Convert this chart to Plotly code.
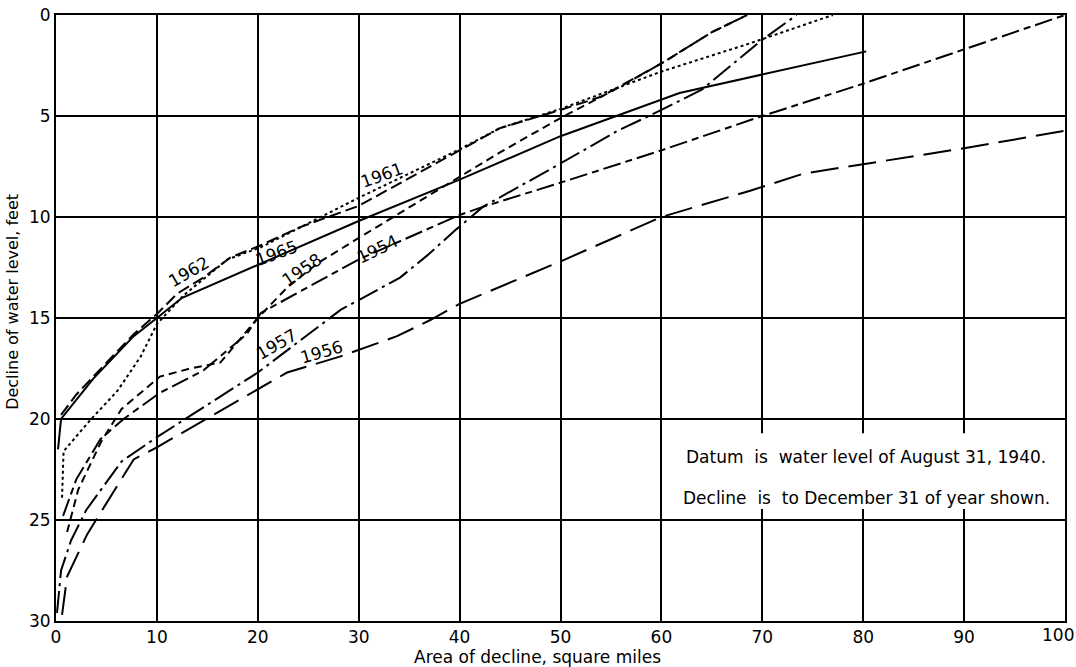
import plotly.graph_objects as go

# ---- data ----
x_1965 = [0.2, 0.5, 3.7, 7.7, 10, 12.5, 30, 40, 50, 61.8, 80.3]
y_1965 = [21.5, 20.0, 18.0, 15.9, 15.0, 14.0, 10.2, 8.15, 6.0, 3.86, 1.8]

x_1962 = [0.5, 2, 3.7, 7.7, 10, 12, 14.6, 17.3, 20.3, 24.2, 30, 40, 44, 50, 54, 60, 65, 68.5]
y_1962 = [19.8, 18.8, 17.9, 15.8, 14.8, 13.8, 13.0, 12.0, 11.4, 10.5, 9.45, 6.7, 5.6, 4.7, 4.05, 2.4, 0.85, 0]

x_1961 = [0.6, 0.75, 3.4, 6.1, 8.4, 10, 12.6, 17, 20.3, 30, 40, 44, 50, 55.6, 60, 68.8, 77]
y_1961 = [23.9, 21.6, 20.05, 18.6, 16.9, 15.3, 13.9, 12.1, 11.5, 9.05, 6.65, 5.6, 4.65, 3.6, 2.8, 1.4, 0]

x_1958 = [1.1, 2.2, 4.5, 6.5, 10.3, 13.3, 16.3, 18.6, 20, 22.9, 25.9, 29.8, 40, 44, 50, 55, 60, 65, 68.5]
y_1958 = [25.6, 23.5, 21.1, 19.5, 17.9, 17.5, 17.2, 15.8, 15.0, 13.5, 12.3, 11.1, 8.0, 6.8, 5.1, 3.8, 2.4, 0.85, 0]

x_1954 = [0.7, 2, 4.4, 6.7, 10.3, 14.6, 18.9, 20.3, 30, 40, 42.3, 50, 60, 70, 80, 90, 100]
y_1954 = [24.8, 23.0, 21.0, 20.0, 18.7, 17.6, 15.8, 14.75, 12.1, 9.9, 9.5, 8.3, 6.7, 5.0, 3.4, 1.7, 0]

x_1957 = [0.1, 0.5, 1.5, 3, 6.5, 10, 20, 24.2, 28.2, 34.1, 36.8, 39.7, 42.3, 50, 55.6, 60, 64, 69.8, 73.4]
y_1957 = [29.6, 27.5, 26.0, 24.5, 22.1, 20.9, 17.7, 16.1, 14.6, 13.0, 11.9, 10.6, 9.5, 7.35, 5.75, 4.7, 3.7, 1.3, 0]

x_1956 = [0.6, 1.1, 3.1, 7.7, 10, 20, 22.9, 28.2, 33.8, 37.1, 40, 45.7, 50, 60, 68.8, 74.1, 80, 90, 100]
y_1956 = [29.7, 27.8, 25.7, 22.0, 21.4, 18.5, 17.7, 16.9, 15.9, 15.1, 14.3, 13.1, 12.2, 10.0, 8.7, 7.85, 7.4, 6.6, 5.73]

years = ["1965", "1962", "1961", "1958", "1954", "1957", "1956"]
label_x = [21.9, 13.1, 32.3, 24.3, 31.9, 21.9, 26.3]
label_y = [11.8, 12.7, 7.9, 12.6, 11.6, 16.3, 16.7]
label_angle = [-20, -30, -20, -34, -26, -30, -16]

x_ticks = [0, 10, 20, 30, 40, 50, 60, 70, 80, 90, 100]
y_ticks = [0, 5, 10, 15, 20, 25, 30]

x_title = "Area of decline, square miles"
y_title = "Decline of water level, feet"
note_lines = ["Datum  is  water level of August 31, 1940.",
              "Decline  is  to December 31 of year shown."]

FONT = "DejaVu Sans"

series = [
    (x_1965, y_1965, "solid"),
    (x_1962, y_1962, "12px,5px"),
    (x_1961, y_1961, "3px,3px"),
    (x_1958, y_1958, "8px,5px"),
    (x_1954, y_1954, "18px,5px,7px,5px"),
    (x_1957, y_1957, "22px,5px,3px,5px"),
    (x_1956, y_1956, "28px,10px"),
]

fig = go.Figure()
for (xs, ys, dash), name in zip(series, years):
    fig.add_trace(go.Scatter(x=xs, y=ys, mode="lines", name=name,
                             line=dict(color="black", width=2, dash=dash),
                             showlegend=False))

for t, lx, ly, ang in zip(years, label_x, label_y, label_angle):
    fig.add_annotation(x=lx, y=ly, text=t, showarrow=False, textangle=ang,
                       font=dict(family=FONT, size=17, color="black"))

# white box for the note
fig.add_shape(type="rect", x0=60.5, x1=99.6, y0=20.7, y1=24.45,
              fillcolor="white", line=dict(width=0), layer="above")
fig.add_annotation(x=80.3, y=21.9, text=note_lines[0], showarrow=False,
                   font=dict(family=FONT, size=17, color="black"))
fig.add_annotation(x=80.3, y=23.9, text=note_lines[1], showarrow=False,
                   font=dict(family=FONT, size=17, color="black"))

# last x tick label, pulled in so it stays inside the page
tick_text = [str(v) for v in x_ticks]
last_tick = tick_text[-1]
tick_text[-1] = ""
fig.add_annotation(xref="paper", x=1.0108, yref="paper", y=0, xanchor="right",
                   yanchor="top", yshift=-2, text=last_tick, showarrow=False,
                   font=dict(family=FONT, size=17, color="black"))

# axis titles
fig.add_annotation(x=47.7, xref="x", yref="paper", y=0, yanchor="middle", yshift=-36,
                   text=x_title, showarrow=False,
                   font=dict(family=FONT, size=17, color="black"))
fig.add_annotation(xref="paper", x=-0.0426, xanchor="center", y=14.2, yref="y",
                   text=y_title, textangle=-90, showarrow=False,
                   font=dict(family=FONT, size=16, color="black"))

fig.update_layout(
    width=1076, height=667,
    margin=dict(l=56, r=11, t=15, b=46),
    paper_bgcolor="white", plot_bgcolor="white",
    font=dict(family=FONT, color="black"),
)
fig.update_xaxes(range=[0, 100], tickvals=x_ticks, ticktext=tick_text,
                 showgrid=True, gridcolor="black", gridwidth=1.5,
                 showline=True, linecolor="black", linewidth=2, mirror=True,
                 ticks="", tickfont=dict(size=17), zeroline=False, automargin=False)
fig.update_yaxes(range=[30, 0], tickvals=y_ticks, ticktext=[str(v) for v in y_ticks],
                 showgrid=True, gridcolor="black", gridwidth=1.5,
                 showline=True, linecolor="black", linewidth=2, mirror=True,
                 ticks="", tickfont=dict(size=17), zeroline=False, automargin=False)

fig.write_html("out.html")
